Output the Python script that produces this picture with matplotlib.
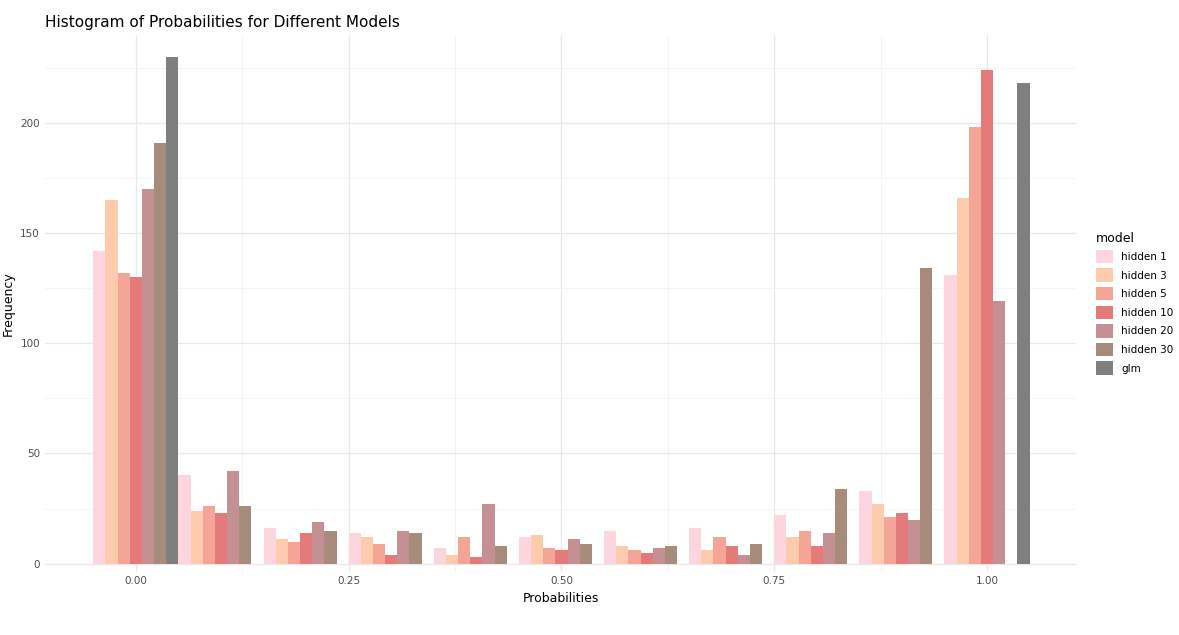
import numpy as np
import matplotlib.pyplot as plt
from matplotlib.ticker import MultipleLocator

bin_centers = [0.0, 0.1, 0.2, 0.3, 0.4, 0.5, 0.6, 0.7, 0.8, 0.9, 1.0]
models = ["hidden 1", "hidden 3", "hidden 5", "hidden 10", "hidden 20", "hidden 30", "glm"]
colors = ["#FDD5DE", "#FFCBAD", "#F5A596", "#E57A7A", "#C49094", "#A78C7B", "#7F7F7F"]

hidden1 = [142, 40, 16, 14, 7, 12, 15, 16, 22, 33, 131]
hidden3 = [165, 24, 11, 12, 4, 13, 8, 6, 12, 27, 166]
hidden5 = [132, 26, 10, 9, 12, 7, 6, 12, 15, 21, 198]
hidden10 = [130, 23, 14, 4, 3, 6, 5, 8, 8, 23, 224]
hidden20 = [170, 42, 19, 15, 27, 11, 7, 4, 14, 20, 119]
hidden30 = [191, 26, 15, 14, 8, 9, 8, 9, 34, 134, 0]
glm = [230, 0, 0, 0, 0, 0, 0, 0, 0, 0, 218]
counts = [hidden1, hidden3, hidden5, hidden10, hidden20, hidden30, glm]

fig = plt.figure(figsize=(11.79, 6.35), dpi=100)
ax = fig.add_axes([0.038, 0.1, 0.875, 0.845])

w = 0.1 / len(models)
x = np.array(bin_centers)
for i, (m, c, vals) in enumerate(zip(models, colors, counts)):
    xs = x - 0.05 + w * (i + 0.5)
    vals = np.array(vals)
    mask = vals > 0
    ax.bar(xs[mask], vals[mask], width=w, color=c, label=m, linewidth=0)

ax.set_xlim(-0.107, 1.105)
ax.set_ylim(-3.6, 240)
ax.xaxis.set_major_locator(MultipleLocator(0.25))
ax.xaxis.set_minor_locator(MultipleLocator(0.125))
ax.yaxis.set_major_locator(MultipleLocator(50))
ax.yaxis.set_minor_locator(MultipleLocator(25))
ax.grid(True, which="major", color="#E8E8E8", linewidth=0.9)
ax.grid(True, which="minor", color="#F3F3F3", linewidth=0.6)
ax.set_axisbelow(True)
for s in ax.spines.values():
    s.set_visible(False)
ax.tick_params(which="both", length=0, labelsize=7.5, labelcolor="#4D4D4D")
ax.set_xticklabels(["", "0.00", "0.25", "0.50", "0.75", "1.00"]) if False else None
ax.xaxis.set_major_formatter(lambda v, p: f"{v:.2f}")
ax.set_xlabel("Probabilities", fontsize=9)
ax.set_ylabel("Frequency", fontsize=9)
ax.set_title("Histogram of Probabilities for Different Models", loc="left", fontsize=11, x=0.0)

leg = ax.legend(title="model", loc="center left", bbox_to_anchor=(1.01, 0.5), frameon=False,
                fontsize=7.5, title_fontsize=9, handlelength=1.6, handleheight=1.6)
leg._legend_box.align = "left"

fig.savefig("out.png")
